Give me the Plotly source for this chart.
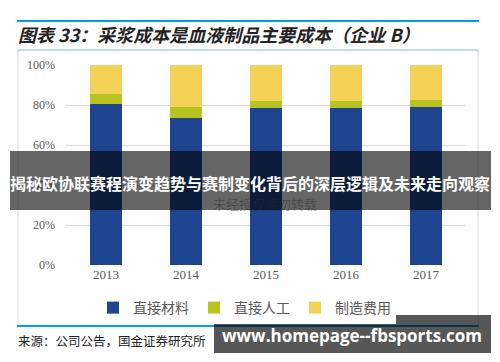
import plotly.graph_objects as go

years = ["2013", "2014", "2015", "2016", "2017"]
direct_material = [80.3, 73.3, 78.7, 78.7, 79.2]
direct_labor = [5.2, 5.5, 3.3, 3.3, 3.5]
manufacturing = [14.5, 21.2, 18.0, 18.0, 17.3]
series_names = ["直接材料", "直接人工", "制造费用"]
y_ticks = [0, 20, 40, 60, 80, 100]
y_tick_labels = ["0%", "20%", "40%", "60%", "80%", "100%"]

colors = ["#1F4591", "#B7C41F", "#F4D257"]

# page body has an 8px margin, so the figure is drawn 8px smaller
OFF = 8
W, H = 500, 362
L, R, T, B = 66, 466, 65, 265


def px(x):
    return (x - L) / (R - L)


def py(y):
    return (B - y) / (B - T)


fig = go.Figure()
for name, vals, c in zip(series_names, [direct_material, direct_labor, manufacturing], colors):
    fig.add_trace(go.Bar(x=years, y=vals, name=name, marker=dict(color=c, line=dict(width=0))))

fig.update_layout(
    barmode="stack",
    bargap=0.6,
    width=W - OFF, height=H - OFF,
    margin=dict(l=L - OFF, r=W - R, t=T - OFF, b=H - B),
    paper_bgcolor="white",
    plot_bgcolor="white",
    showlegend=True,
    legend=dict(orientation="h", x=px(93), xanchor="left", y=py(308), yanchor="middle",
                font=dict(family="Noto Sans CJK SC", size=14, color="#595959"),
                itemwidth=30, traceorder="normal"),
    xaxis=dict(tickfont=dict(family="Liberation Serif", size=13, color="#595959"),
               showgrid=False, zeroline=False, showline=False, ticks=""),
    yaxis=dict(range=[0, 100], tickvals=y_ticks, ticktext=y_tick_labels,
               tickfont=dict(family="Liberation Serif", size=12, color="#595959"),
               showgrid=True, gridcolor="#D9D9D9", gridwidth=1, zeroline=False,
               showline=False, ticks="", ticklabelstandoff=10),
)

shapes = []
shapes.append(dict(type="line", xref="paper", yref="paper", x0=px(17), x1=px(479), y0=py(21), y1=py(21),
                   line=dict(color="#009FE8", width=2)))
shapes.append(dict(type="rect", xref="paper", yref="paper", x0=px(18), x1=px(478), y0=py(50), y1=py(326),
                   line=dict(color="#D6D6D6", width=1), layer="below"))
shapes.append(dict(type="line", xref="paper", yref="paper", x0=px(17), x1=px(479), y0=py(50), y1=py(50),
                   line=dict(color="#8ECFF0", width=1)))
shapes.append(dict(type="line", xref="paper", yref="paper", x0=px(17), x1=px(479), y0=py(326), y1=py(326),
                   line=dict(color="#009FE8", width=2)))
shapes.append(dict(type="rect", xref="paper", yref="paper", x0=px(10), x1=px(491), y0=py(151), y1=py(210),
                   line=dict(width=0), fillcolor="rgba(0,0,0,0.6)", layer="above"))
shapes.append(dict(type="rect", xref="paper", yref="paper", x0=px(214), x1=px(491), y0=py(315), y1=py(353),
                   line=dict(width=0), fillcolor="rgba(0,0,0,0.66)", layer="above"))
fig.update_layout(shapes=shapes)

ann = []
ann.append(dict(text="<b><i>图表 33：采浆成本是血液制品主要成本（企业 B）</i></b>", xref="paper", yref="paper",
                x=px(16), y=py(34), xanchor="left", yanchor="middle", showarrow=False,
                font=dict(family="Noto Sans CJK SC", size=18, color="#222222")))
ann.append(dict(text="来源：公司公告，国金证券研究所", xref="paper", yref="paper",
                x=px(16), y=py(340), xanchor="left", yanchor="middle", showarrow=False,
                font=dict(family="Noto Sans CJK SC", size=12.5, color="#222222")))
ann.append(dict(text="未经授权请勿转载", xref="paper", yref="paper",
                x=px(265), y=py(203), xanchor="center", yanchor="middle", showarrow=False,
                font=dict(family="Noto Sans CJK SC", size=13, color="rgba(40,40,40,0.45)")))
ann.append(dict(text="<b>揭秘欧协联赛程演变趋势与赛制变化背后的深层逻辑及未来走向观察</b>", xref="paper", yref="paper",
                x=px(250), y=py(183), xanchor="center", yanchor="middle", showarrow=False,
                font=dict(family="Noto Sans CJK SC", size=16, color="white")))
ann.append(dict(text="<b>www.homepage--fbsports.com</b>", xref="paper", yref="paper",
                x=px(352), y=py(335), xanchor="center", yanchor="middle", showarrow=False,
                font=dict(family="Open Sans", size=17, color="white")))
fig.update_layout(annotations=ann)

fig.write_html("out.html")
